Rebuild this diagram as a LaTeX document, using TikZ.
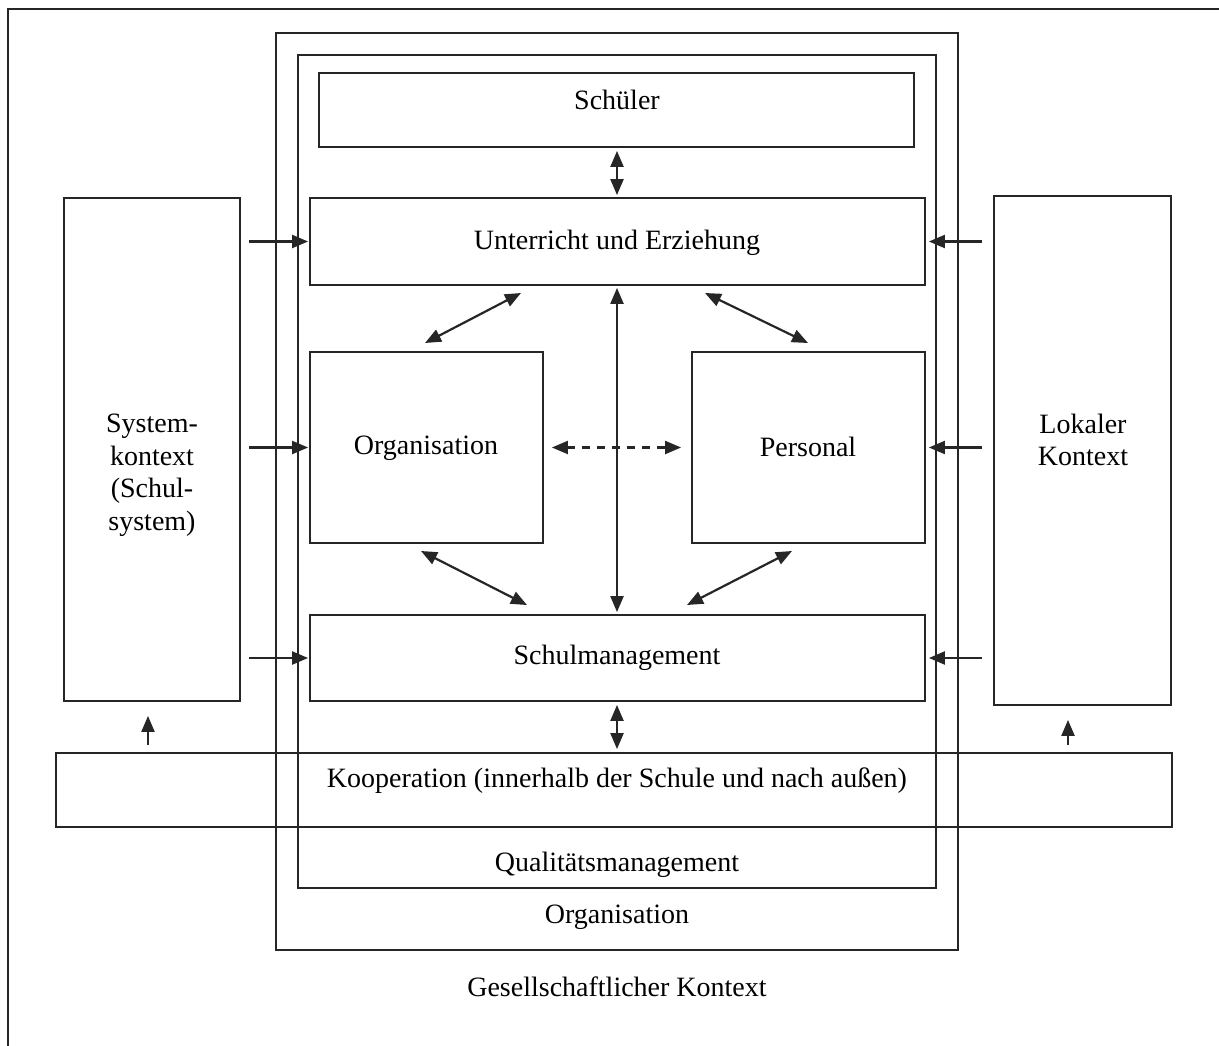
\documentclass[tikz,border=0pt]{standalone}
\usepackage{fontspec}
\setmainfont{Liberation Serif}
\usetikzlibrary{arrows.meta}
\begin{document}
\begin{tikzpicture}[x=1pt,y=-1pt,
  every node/.style={font=\fontsize{28}{32.5}\selectfont, inner sep=0pt},
  box/.style={draw=black!85, line width=1.8pt, fill=none},
  frame/.style={draw=black!85, line width=1.8pt},
  txt/.style={align=center},
  arr/.style={line width=2.2pt, draw=black!85, -{Triangle[length=16pt,width=13pt]}},
  darr/.style={line width=2.2pt, draw=black!85, {Triangle[length=16pt,width=13pt]}-{Triangle[length=16pt,width=13pt]}},
  dsharr/.style={darr, dash pattern=on 8pt off 7pt}]
\useasboundingbox (0,0) rectangle (1219,1046);
% outer frame (society)
\coordinate (ftr) at (1219,9);
\coordinate (ftl) at (8,9);
\coordinate (fbl) at (8,1046);
\draw[frame] (ftr) -- (ftl) -- (fbl);
% boxes
\node[box, minimum width=682, minimum height=917] (oo) at (617,491.5) {};
\node[box, minimum width=638, minimum height=833] (qm) at (617,471.5) {};
\node[box, minimum width=1116, minimum height=74] (kop) at (614,790) {};
\node[box, minimum width=595, minimum height=74] (sch) at (616.5,110) {};
\node[box, minimum width=615, minimum height=87] (unt) at (617.5,241.5) {};
\node[box, minimum width=233, minimum height=191] (org) at (426.5,447.5) {};
\node[box, minimum width=233, minimum height=191] (per) at (808.5,447.5) {};
\node[box, minimum width=615, minimum height=86] (sm) at (617.5,658) {};
\node[box, minimum width=176, minimum height=503] (sys) at (152,449.5) {};
\node[box, minimum width=177, minimum height=509] (lok) at (1082.5,450.5) {};
% texts
\node[txt] (tsch) at (617,100) {Schüler};
\node[txt] (tunt) at (617,243) {Unterricht und Erziehung};
\node[txt] (torg) at (426,448) {Organisation};
\node[txt] (tper) at (808,447) {Personal};
\node[txt] (tsm) at (617,658) {Schulmanagement};
\node[txt] (tkop) at (617,781) {Kooperation (innerhalb der Schule und nach außen)};
\node[txt] (tqm) at (617,865) {Qualitätsmanagement};
\node[txt] (too) at (617,917) {Organisation};
\node[txt] (tges) at (617,987) {Gesellschaftlicher Kontext};
\node[txt] (tsys) at (152,475) {System-\\kontext\\(Schul-\\system)};
\node[txt] (tlok) at (1083,440) {Lokaler\\Kontext};
% left arrows
\draw[arr] ([xshift=8pt]sys.east |- unt.west) -- ([xshift=-1pt]unt.west);
\draw[arr] ([xshift=8pt]sys.east |- org.west) -- ([xshift=-1pt]org.west);
\draw[arr] ([xshift=8pt]sys.east |- sm.west) -- ([xshift=-1pt]sm.west);
% right arrows
\draw[arr] ([xshift=-11pt]lok.west |- unt.east) -- ([xshift=3pt]unt.east);
\draw[arr] ([xshift=-11pt]lok.west |- per.east) -- ([xshift=3pt]per.east);
\draw[arr] ([xshift=-11pt]lok.west |- sm.east) -- ([xshift=3pt]sm.east);
% up arrows from Kooperation
\draw[arr] ([yshift=7pt]kop.north -| 148,0) -- ([yshift=-14pt]sys.south -| 148,0);
\draw[arr] ([yshift=7pt]kop.north -| 1068,0) -- ([yshift=-14pt]lok.south -| 1068,0);
% central vertical double arrows
\draw[darr] ([yshift=-3pt]sch.south -| 617,0) -- ([yshift=2pt]unt.north -| 617,0);
\draw[darr] ([yshift=-2pt]unt.south -| 617,0) -- ([yshift=2pt]sm.north -| 617,0);
\draw[darr] ([yshift=-3pt]sm.south -| 617,0) -- ([yshift=3pt]kop.north -| 617,0);
% diagonal double arrows
\coordinate (d1a) at (425,343); \coordinate (d1b) at (521,293);
\coordinate (d2a) at (705,293); \coordinate (d2b) at (808,343);
\coordinate (d3a) at (421,551); \coordinate (d3b) at (527,605);
\coordinate (d4a) at (792,551); \coordinate (d4b) at (687,605);
\draw[darr] (d1a) -- (d1b);
\draw[darr] (d2a) -- (d2b);
\draw[darr] (d3a) -- (d3b);
\draw[darr] (d4a) -- (d4b);
% dashed double arrow
\draw[dsharr] ([xshift=8pt]org.east) -- ([xshift=-10pt]per.west);
\end{tikzpicture}
\end{document}
